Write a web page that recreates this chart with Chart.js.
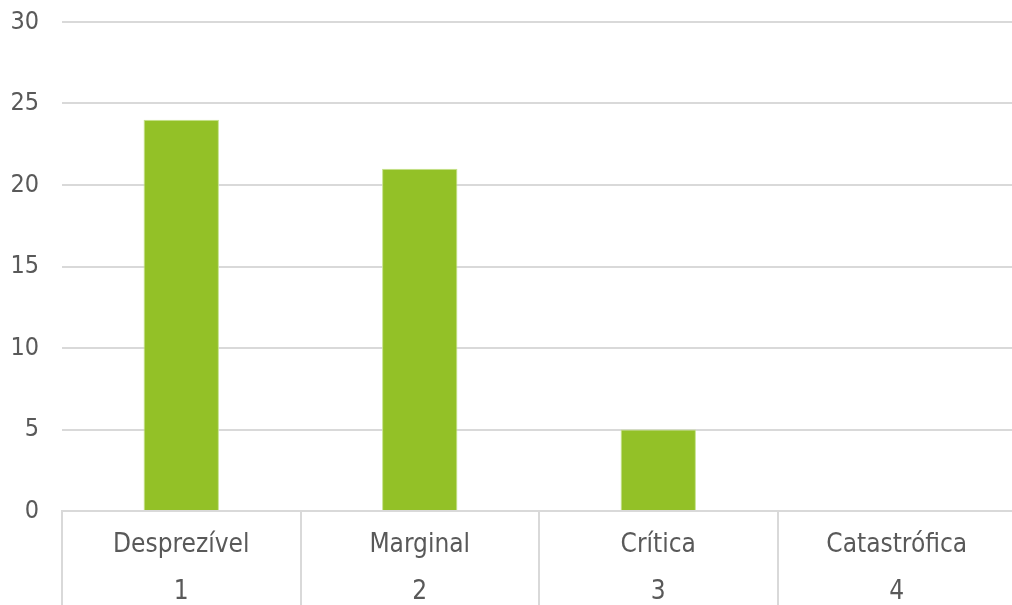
<!DOCTYPE html>
<html>
<head>
<meta charset="utf-8">
<script src="https://cdn.jsdelivr.net/npm/chart.js@4/dist/chart.umd.min.js"></script>
<style>
  html, body { margin: 0; padding: 0; background: #fff; overflow: hidden; }
  #wrap { position: relative; width: 1016px; height: 605px; }
</style>
</head>
<body>
<div id="wrap"><canvas id="c"></canvas></div>
<script>
const categories = ['Desprezível', 'Marginal', 'Crítica', 'Catastrófica'];
const levels = ['1', '2', '3', '4'];
const values = [24, 21, 5, 0];
const yTicks = [0, 5, 10, 15, 20, 25, 30];

const textColor = '#595959';
const gridColor = '#d9d9d9';
const fontFamily = '"DejaVu Sans Condensed", "DejaVu Sans", sans-serif';

new Chart(document.getElementById('c'), {
  type: 'bar',
  data: {
    labels: categories.map((c, i) => [c, levels[i]]),
    datasets: [{
      data: values,
      backgroundColor: '#93c127',
      borderColor: '#c6e28c',
      borderWidth: 1,
      barPercentage: 0.316,
      categoryPercentage: 1
    }]
  },
  options: {
    responsive: true,
    maintainAspectRatio: false,
    animation: false,
    layout: { padding: { top: 22, left: 0, right: 0, bottom: 0 } },
    plugins: { legend: { display: false }, tooltip: { enabled: false } },
    scales: {
      x: {
        offset: true,
        grid: {
          offset: true,
          drawOnChartArea: false,
          drawTicks: true,
          tickLength: 95,
          color: gridColor,
          lineWidth: 2
        },
        border: { display: true, color: gridColor, width: 2 },
        ticks: {
          color: textColor,
          font: { family: fontFamily, size: 26, lineHeight: 1.8 },
          padding: -84,
          maxRotation: 0,
          autoSkip: false
        },
        afterFit: (s) => { s.height = 94; }
      },
      y: {
        min: 0,
        max: 30,
        afterBuildTicks: (s) => { s.ticks = yTicks.map(v => ({ value: v })); },
        grid: { color: gridColor, lineWidth: 2, drawTicks: false },
        border: { display: false },
        ticks: {
          color: textColor,
          font: { family: fontFamily, size: 25 },
          padding: 23
        },
        afterFit: (s) => { s.width = 62; s.paddingTop = 0; s.paddingBottom = 0; }
      }
    }
  }
});
</script>
</body>
</html>
